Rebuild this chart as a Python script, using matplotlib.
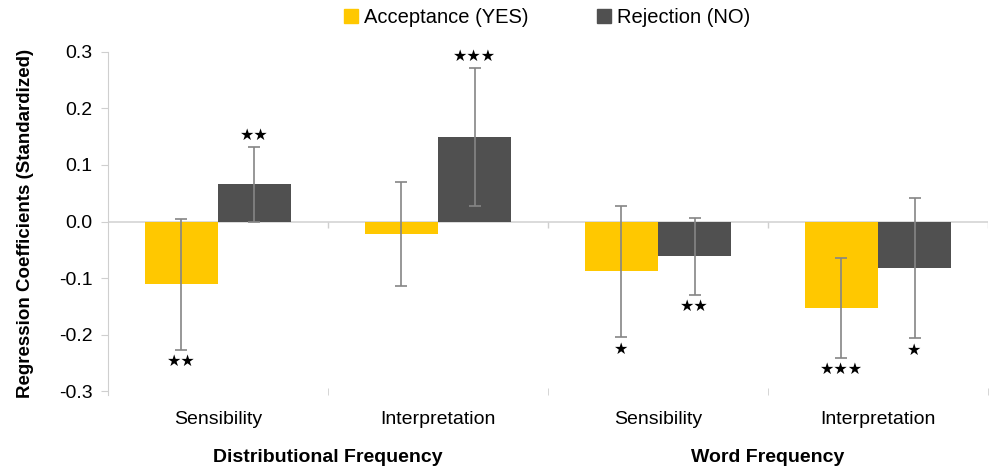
import numpy as np
import matplotlib
matplotlib.use("Agg")
import matplotlib.pyplot as plt
import matplotlib.transforms as mtransforms
from matplotlib.patches import Patch

plt.rcParams['font.family'] = ['Liberation Sans', 'DejaVu Sans']

# data
categories = ['Sensibility', 'Interpretation', 'Sensibility', 'Interpretation']
groups = ['Distributional Frequency', 'Word Frequency']
yes_vals = [-0.111, -0.022, -0.088, -0.153]
no_vals = [0.066, 0.149, -0.061, -0.082]
yes_err = [0.115, 0.091, 0.116, 0.088]
no_err = [0.066, 0.122, 0.068, 0.124]
yes_sig = ['**', '', '*', '***']
no_sig = ['**', '***', '**', '*']

yellow = '#FFC800'
grey = '#505050'

fig = plt.figure(figsize=(9.89, 4.70), dpi=100)
ax = fig.add_axes([0.109, 0.16, 0.89, 0.73])

x = np.arange(len(categories))
w = 0.333
ax.bar(x - w/2, yes_vals, w, color=yellow, label='Acceptance (YES)', zorder=2)
ax.bar(x + w/2, no_vals, w, color=grey, label='Rejection (NO)', zorder=2)
ax.errorbar(x - w/2, yes_vals, yerr=yes_err, fmt='none', ecolor='#858585',
            elinewidth=1.2, capsize=4, capthick=1.2, zorder=3)
ax.errorbar(x + w/2, no_vals, yerr=no_err, fmt='none', ecolor='#858585',
            elinewidth=1.2, capsize=4, capthick=1.2, zorder=3)

# significance stars just beyond the error bar ends
for xs, vals, errs, sigs in [(x - w/2, yes_vals, yes_err, yes_sig),
                             (x + w/2, no_vals, no_err, no_sig)]:
    for xi, v, e, s in zip(xs, vals, errs, sigs):
        if not s:
            continue
        yy = v + e + 0.021 if v > 0 else v - e - 0.021
        ax.text(xi, yy, '\u2605' * len(s), ha='center', va='center',
                fontsize=11.5, family='DejaVu Sans', color='black', zorder=4)

ax.axhline(0, color='#d4d4d4', lw=1.2, zorder=1)
bounds = np.arange(len(categories) + 1) - 0.5
ax.vlines(bounds[1:], -0.011, 0, color='#cfcfcf', lw=1, zorder=1)

ax.set_xlim(-0.5, len(categories) - 0.5)
ax.set_ylim(-0.306, 0.3)
ax.set_yticks([-0.3, -0.2, -0.1, 0.0, 0.1, 0.2, 0.3])
ax.set_yticklabels(['%.1f' % t for t in [-0.3, -0.2, -0.1, 0.0, 0.1, 0.2, 0.3]])
ax.set_xticks(x)
ax.set_xticklabels(categories)
ax.set_xticks(bounds[1:], minor=True)
ax.tick_params(axis='x', which='major', length=0, pad=12, labelsize=14)
ax.tick_params(axis='x', which='minor', length=5, direction='in', color='#cfcfcf')
ax.tick_params(axis='y', length=5, color='#cfcfcf', labelsize=14, pad=6)

for s in ['top', 'right', 'bottom']:
    ax.spines[s].set_visible(False)
ax.spines['left'].set_color('#cfcfcf')

ax.set_ylabel('Regression Coefficients (Standardized)', fontsize=13.5,
              fontweight='bold', labelpad=18)

trans = mtransforms.blended_transform_factory(ax.transData, ax.transAxes)
for i, g in enumerate(groups):
    ax.text(2 * i + 0.5, -0.184, g, transform=trans, ha='center', va='center',
            fontsize=14, fontweight='bold')

handles = [Patch(color=yellow), Patch(color=grey)]
fig.legend(handles, ['Acceptance (YES)', 'Rejection (NO)'], loc='center',
           bbox_to_anchor=(0.553, 0.962), ncol=2, frameon=False, fontsize=14.5,
           handlelength=0.7, handleheight=0.7, handletextpad=0.3,
           columnspacing=3.4)

fig.savefig('out.png', dpi=100)
